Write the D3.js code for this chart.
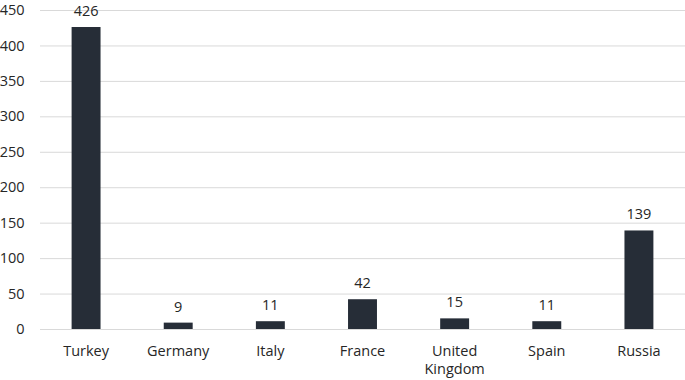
<!DOCTYPE html>
<html><head><meta charset="utf-8">
<script src="https://cdn.jsdelivr.net/npm/d3@7"></script>
<style>body{margin:0;background:#fff}svg text{font-family:"Open Sans","Noto Sans",sans-serif;fill:#262626}</style>
</head><body><svg id="c" width="685" height="380"></svg>
<script>
const categories = ["Turkey","Germany","Italy","France","United Kingdom","Spain","Russia"];
const values = [426,9,11,42,15,11,139];
const yTicks = [0,50,100,150,200,250,300,350,400,450];

const svg = d3.select("#c");
const x = d3.scaleBand().domain(categories).range([40,685]).paddingInner(0.686).paddingOuter(0.343);
const y = d3.scaleLinear().domain([0,450]).range([329,10]);
const fs = 14.5;

svg.append("g").selectAll("line").data(yTicks).join("line")
  .attr("x1",40).attr("x2",685).attr("y1",d=>y(d)+0.5).attr("y2",d=>y(d)+0.5)
  .attr("stroke","#d9d9d9").attr("stroke-width",1);

svg.append("g").selectAll("text").data(yTicks).join("text")
  .attr("x",24.5).attr("y",d=>y(d)).attr("dy","0.35em").attr("text-anchor","end")
  .attr("font-size",fs).text(d=>d);

svg.append("g").selectAll("rect").data(values).join("rect")
  .attr("x",(d,i)=>x(categories[i])).attr("width",x.bandwidth())
  .attr("y",d=>y(d)).attr("height",d=>y(0)-y(d)).attr("fill","#262d37");

svg.append("g").selectAll("text").data(values).join("text")
  .attr("x",(d,i)=>x(categories[i])+x.bandwidth()/2).attr("y",d=>y(d)-11)
  .attr("text-anchor","middle").attr("font-size",fs).text(d=>d);

const cl = svg.append("g").selectAll("text").data(categories).join("text")
  .attr("x",d=>x(d)+x.bandwidth()/2).attr("y",356).attr("text-anchor","middle").attr("font-size",fs);
cl.each(function(d){
  const words = d.split(" ");
  const t = d3.select(this);
  if (words.length>1){
    words.forEach((w,i)=>t.append("tspan").attr("x",+t.attr("x")).attr("dy",i?18:0).text(w));
  } else t.text(d);
});
</script></body></html>
